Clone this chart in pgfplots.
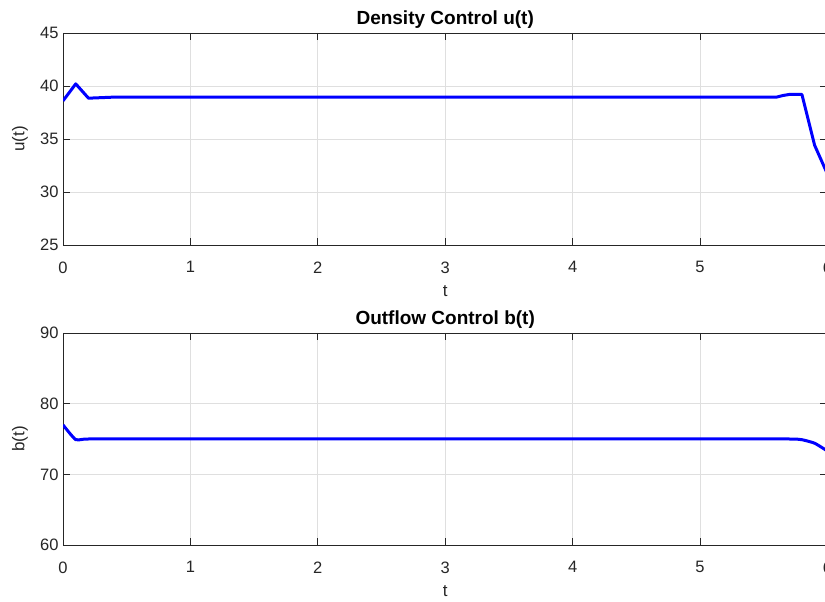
\documentclass[border=0pt]{standalone}
\usepackage{fontspec}
\setmainfont{Liberation Sans}
\usepackage{pgfplots}
\pgfplotsset{compat=1.18}
\definecolor{axgray}{HTML}{262626}
\definecolor{gridgray}{HTML}{DFDFDF}
\pgfplotsset{
  mystyle/.style={
    scale only axis, width=764.4pt, height=212pt,
    xmin=0, xmax=6, xtick={0,1,2,3,4,5,6},
    grid=major, major grid style={draw=gridgray, line width=0.8pt},
    axis line style={draw=axgray, line width=0.9pt},
    tick style={draw=axgray, line width=0.9pt},
    tick align=inside, major tick length=7pt,
    /pgf/number format/assume math mode=true,
    tick label style={font=\fontsize{16.5}{19}\selectfont, text=axgray},
    xticklabel style={yshift=-13pt},
    yticklabel style={xshift=-1pt},
    label style={font=\fontsize{17}{20}\selectfont, text=axgray},
    title style={font=\fontsize{19}{22}\selectfont\bfseries, text=black},
    xlabel style={at={([yshift=-46pt]axis description cs:0.5,0)}, anchor=center},
    ylabel style={at={([xshift=-43pt]axis description cs:0,0.5)}, anchor=center, rotate=0},
    title style={at={([yshift=7pt]axis description cs:0.5,1)}, anchor=center},
  }
}
\begin{document}
\begin{tikzpicture}[x=1pt,y=1pt]
\path[use as bounding box] (0,0) rectangle (825,602);
\begin{axis}[mystyle, at={(63pt,357pt)}, anchor=south west,
  ymin=25, ymax=45, ytick={25,30,35,40,45},
  title={Density Control u(t)}, xlabel={t}, ylabel={u(t)}]
\addplot[blue, line width=3pt, line join=round] coordinates {
(0,38.6)(0.1,40.2)(0.2,38.85)(0.3,38.9)(0.4,38.95)(0.5,38.95)(1,38.95)(2,38.95)(3,38.95)(4,38.95)(5,38.95)(5.6,38.95)(5.65,39.1)(5.7,39.2)(5.8,39.2)(5.9,34.4)(6,31.7)
};
\end{axis}
\begin{axis}[mystyle, at={(63pt,57pt)}, anchor=south west,
  ymin=60, ymax=90, ytick={60,70,80,90},
  title={Outflow Control b(t)}, xlabel={t}, ylabel={b(t)}]
\addplot[blue, line width=3pt, line join=round, smooth, tension=0.3] coordinates {
(0,77.0)(0.1,74.9)(0.2,75.0)(1,75.0)(2,75.0)(3,75.0)(4,75.0)(5,75.0)(5.7,75.0)(5.8,74.9)(5.9,74.4)(6,73.3)
};
\end{axis}
\end{tikzpicture}
\end{document}
